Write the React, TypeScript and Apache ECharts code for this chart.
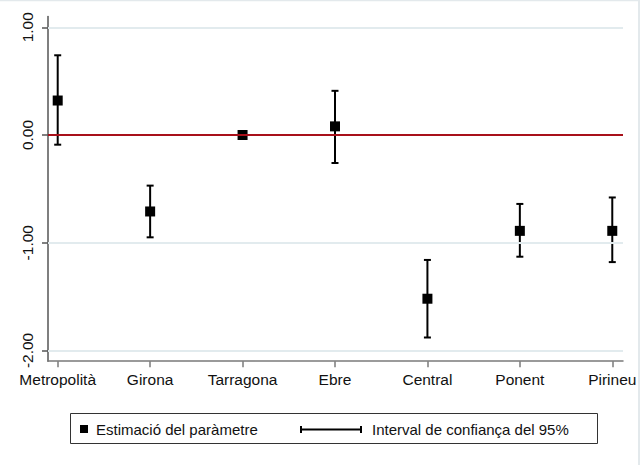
import React, { useEffect, useRef } from "react";
import * as echarts from "echarts";

const categories = ["Metropolità", "Girona", "Tarragona", "Ebre", "Central", "Ponent", "Pirineu"];
const estimates = [0.32, -0.71, 0.0, 0.08, -1.52, -0.89, -0.89];
const ciLow: (number | null)[] = [-0.09, -0.95, null, -0.26, -1.88, -1.13, -1.18];
const ciHigh: (number | null)[] = [0.74, -0.47, null, 0.41, -1.16, -0.64, -0.58];
const yTickValues = [-2, -1, 0, 1];
const yTickLabels = ["-2.00", "-1.00", "0.00", "1.00"];
const gridLineValues = [1, -1, -2];
const legendLabels = ["Estimació del paràmetre", "Interval de confiança del 95%"];

const FONT = "'Liberation Sans', Arial, sans-serif";

export default function App() {
  const ref = useRef<HTMLDivElement>(null);
  useEffect(() => {
    if (!ref.current) return;
    const chart = echarts.init(ref.current, undefined, { renderer: "svg" });
    const xIdx = categories.map((_, i) => i);
    const ciData = xIdx
      .filter((i) => ciLow[i] !== null && ciHigh[i] !== null)
      .map((i) => [i, ciLow[i], ciHigh[i]]);
    const option: any = {
      animation: false,
      backgroundColor: "#ffffff",
      textStyle: { fontFamily: FONT },
      grid: { left: 48, right: 17, top: 16.5, bottom: 103.8, containLabel: false },
      xAxis: {
        type: "value",
        min: -0.105,
        max: 6.116,
        axisLine: { show: true, onZero: false, lineStyle: { color: "#7a7a7a", width: 1.5 } },
        axisTick: { show: true, customValues: xIdx, length: 6, lineStyle: { color: "#7a7a7a", width: 1.5 } },
        axisLabel: {
          customValues: xIdx,
          formatter: (v: number) => categories[Math.round(v)] ?? "",
          color: "#111",
          fontSize: 15.5,
          fontFamily: FONT,
          margin: 10,
        },
        splitLine: { show: false },
      },
      yAxis: {
        type: "value",
        min: -2.1,
        max: 1.1,
        axisLine: { show: true, onZero: false, lineStyle: { color: "#555", width: 1.5 } },
        axisTick: { show: true, customValues: yTickValues, length: 6, lineStyle: { color: "#555", width: 1.5 } },
        axisLabel: {
          customValues: yTickValues,
          formatter: (v: number) => {
            const k = yTickValues.findIndex((t) => Math.abs(t - v) < 1e-9);
            return k >= 0 ? yTickLabels[k] : "";
          },
          rotate: 90,
          color: "#111",
          fontSize: 15.5,
          fontFamily: FONT,
          margin: 13,
        },
        splitLine: { show: false },
      },
      series: [
        {
          type: "line",
          data: [],
          z: 1,
          markLine: {
            silent: true,
            symbol: "none",
            label: { show: false },
            data: gridLineValues.map((v) => ({ yAxis: v, lineStyle: { color: "#e2ebee", width: 1.8, type: "solid" } })),
          },
        },
        {
          type: "line",
          data: [],
          z: 2,
          markLine: {
            silent: true,
            symbol: "none",
            label: { show: false },
            data: [{ yAxis: 0, lineStyle: { color: "#a8101a", width: 1.8, type: "solid" } }],
          },
        },
        {
          type: "custom",
          z: 3,
          data: ciData,
          renderItem: (params: any, api: any) => {
            const x = api.value(0);
            const lo = api.value(1);
            const hi = api.value(2);
            const pLo = api.coord([x, lo]);
            const pHi = api.coord([x, hi]);
            const w = 3.5;
            const st = { stroke: "#000", lineWidth: 2 };
            return {
              type: "group",
              children: [
                { type: "line", shape: { x1: pLo[0], y1: pLo[1], x2: pHi[0], y2: pHi[1] }, style: st },
                { type: "line", shape: { x1: pLo[0] - w, y1: pLo[1], x2: pLo[0] + w, y2: pLo[1] }, style: st },
                { type: "line", shape: { x1: pHi[0] - w, y1: pHi[1], x2: pHi[0] + w, y2: pHi[1] }, style: st },
              ],
            };
          },
        },
        {
          type: "scatter",
          z: 4,
          symbol: "rect",
          symbolSize: 10,
          itemStyle: { color: "#000", opacity: 1 },
          data: estimates.map((v, i) => [i, v]),
        },
      ],
      graphic: [
        { type: "line", shape: { x1: 0, y1: 0.5, x2: 640, y2: 0.5 }, style: { stroke: "#e3e9ec", lineWidth: 1.5 } },
        { type: "line", shape: { x1: 639, y1: 0, x2: 639, y2: 465 }, style: { stroke: "#e3e9ec", lineWidth: 2 } },
        {
          type: "rect",
          shape: { x: 70.5, y: 413.5, width: 527, height: 30 },
          style: { fill: "#fff", stroke: "#333", lineWidth: 1 },
        },
        { type: "rect", shape: { x: 80, y: 425, width: 8, height: 8 }, style: { fill: "#000" } },
        {
          type: "text",
          x: 96,
          y: 429.5,
          style: { text: legendLabels[0], fontSize: 15, fontFamily: FONT, fill: "#111", verticalAlign: "middle" },
        },
        { type: "line", shape: { x1: 301, y1: 429.5, x2: 361, y2: 429.5 }, style: { stroke: "#000", lineWidth: 2 } },
        { type: "line", shape: { x1: 301, y1: 426, x2: 301, y2: 433 }, style: { stroke: "#000", lineWidth: 2 } },
        { type: "line", shape: { x1: 361, y1: 426, x2: 361, y2: 433 }, style: { stroke: "#000", lineWidth: 2 } },
        {
          type: "text",
          x: 372,
          y: 429.5,
          style: { text: legendLabels[1], fontSize: 15, fontFamily: FONT, fill: "#111", verticalAlign: "middle" },
        },
      ],
    };
    chart.setOption(option);
    return () => chart.dispose();
  }, []);
  return (
    <div
      ref={ref}
      style={{ position: "fixed", left: 0, top: 0, width: 640, height: 465, background: "#fff" }}
    />
  );
}
